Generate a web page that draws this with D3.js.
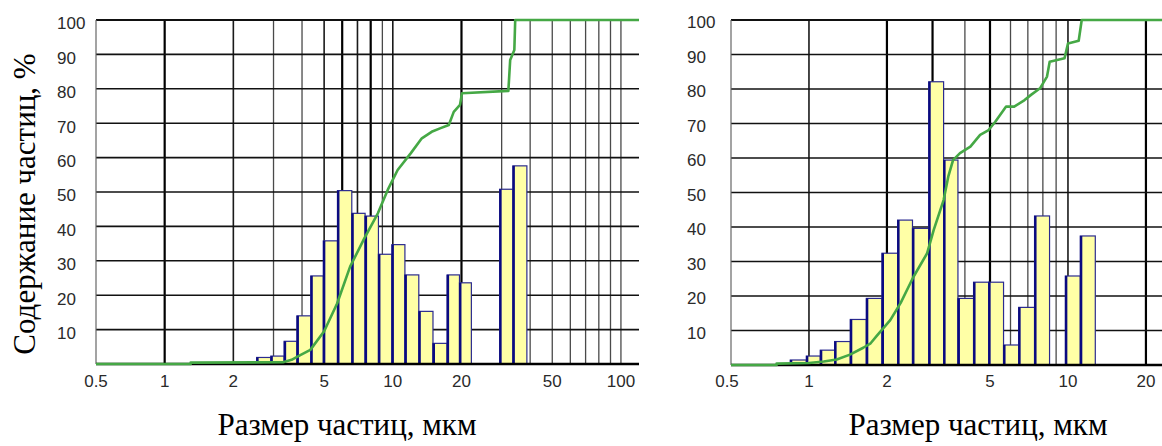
<!DOCTYPE html>
<html><head><meta charset="utf-8">
<script src="https://cdn.jsdelivr.net/npm/d3@7"></script>
<style>html,body{margin:0;padding:0;background:#fff;}svg{display:block;}</style>
</head><body>
<svg id="c" width="1162" height="446"></svg>
<script>
// ---------- data ----------
const yTicks = [10,20,30,40,50,60,70,80,90,100];

const leftXTicks = [0.5,1,2,5,10,20,50,100];
const leftGrid = [1,2,3,4,5,6,7,8,9,10,20,30,40,50,60,70,80,90,100];
const leftEdges = [2.53,2.92,3.34,3.80,4.37,4.96,5.72,6.61,7.56,8.65,9.91,11.3,13.0,15.0,17.3,19.6,22.1,25.5,29.4,33.6,38.7];
const leftValues = [1.9,2.3,6.6,14.0,25.6,35.8,50.4,43.8,43.0,31.9,34.7,25.9,15.3,6.0,25.9,23.6,null,null,50.8,57.6];
const leftCumX = [0.5,1.3,1.3,3.3,3.6,3.93,4.35,5.0,5.7,6.5,7.5,8.6,9.5,10.5,12.0,13.4,14.8,16.1,17.6,18.5,19.7,20.1,32.1,32.7,34.1,34.4,120];
const leftCumY = [0,0,0.4,0.5,1.2,2.6,4.1,9.5,17.6,28.3,36.5,43.8,50.6,56.4,61.3,65.6,67.5,68.5,69.5,73.3,75.3,78.7,79.4,88.4,91.3,100,100];

const rightXTicks = [0.5,1,2,5,10,20];
const rightGrid = [1,2,3,4,5,6,7,8,9,10,20];
const rightEdges = [0.847,0.977,1.106,1.256,1.444,1.665,1.914,2.199,2.51,2.90,3.31,3.76,4.32,4.94,5.64,6.45,7.43,8.49,9.77,11.16,12.75];
const rightValues = [1.45,2.6,4.3,6.8,13.2,19.3,32.4,42.0,39.6,82.1,59.4,19.3,24.0,24.0,5.8,16.7,43.2,null,25.8,37.4];
const rightCumX = [0.5,0.75,0.75,1.0,1.14,1.28,1.44,1.62,1.73,1.83,2.06,2.26,2.53,2.86,3.03,3.31,3.45,3.60,3.83,4.20,4.58,4.94,5.24,5.77,6.2,6.8,7.2,7.8,8.3,8.5,9.7,10.0,11.0,11.3,25];
const rightCumY = [0,0,0.4,0.6,1.0,1.6,3.0,5.0,6.3,8.5,13.0,18.0,25.5,32.4,39.1,47.8,54.6,59.4,61.4,63.3,66.7,68.1,70.5,74.9,74.9,76.8,78.3,80.2,83.6,87.9,88.9,93.2,94.0,100,100];

const yTitle = "Содержание частиц, %";
const xTitle = "Размер частиц, мкм";

// ---------- drawing ----------
const svg = d3.select("#c");
const tickFont = "'Liberation Sans',Arial,sans-serif";
const serif = "'Liberation Serif','DejaVu Serif',serif";

function drawChart(cfg){
  const g = svg.append("g");
  const x = d3.scaleLog().domain(cfg.xDomain).range(cfg.xRange);
  const y = d3.scaleLinear().domain([0,100]).range(cfg.yRange);
  const clipId = "clip"+cfg.id;
  svg.append("clipPath").attr("id",clipId).append("rect")
    .attr("x",cfg.xRange[0]-2).attr("y",cfg.yRange[1]-3)
    .attr("width",Math.min(cfg.xRange[1],1162)-cfg.xRange[0]+4)
    .attr("height",cfg.yRange[0]-cfg.yRange[1]+6);
  const p = g.append("g").attr("clip-path",`url(#${clipId})`);
  const x0 = cfg.xRange[0], x1 = cfg.xRange[1];

  // vertical grid
  p.selectAll(".vg").data(cfg.grid).join("line")
    .attr("x1",d=>x(d)).attr("x2",d=>x(d))
    .attr("y1",y(100)).attr("y2",y(0))
    .attr("stroke",d=>cfg.thick.includes(d)?"#000":(cfg.mid.includes(d)?"#1a1a1a":"#4a4a4a"))
    .attr("stroke-width",d=>cfg.thick.includes(d)?2.2:(cfg.mid.includes(d)?1.6:1.3));
  // horizontal grid
  p.selectAll(".hg").data(yTicks).join("line")
    .attr("x1",x0).attr("x2",x1)
    .attr("y1",d=>y(d)).attr("y2",d=>y(d))
    .attr("stroke","#111").attr("stroke-width",d=>d===100?2:1.6);
  // y axis line
  p.append("line").attr("x1",x0).attr("x2",x0).attr("y1",y(100)).attr("y2",y(0))
    .attr("stroke","#666").attr("stroke-width",1.2);

  // bars
  const bars = cfg.values.map((v,i)=>({v, a:cfg.edges[i], b:cfg.edges[i+1]})).filter(d=>d.v!==null);
  p.selectAll(".bar").data(bars).join("rect")
    .attr("x",d=>x(d.a)).attr("width",d=>x(d.b)-x(d.a))
    .attr("y",d=>y(d.v)).attr("height",d=>y(0)-y(d.v))
    .attr("fill","#ffffa6").attr("stroke","#2b2b8f").attr("stroke-width",1.2);
  p.selectAll(".barl").data(bars).join("line")
    .attr("x1",d=>x(d.a)+0.8).attr("x2",d=>x(d.a)+0.8)
    .attr("y1",d=>y(d.v)).attr("y2",y(0))
    .attr("stroke","#0a0a80").attr("stroke-width",2.4);

  // x axis line
  p.append("line").attr("x1",x0).attr("x2",x1).attr("y1",y(0)).attr("y2",y(0))
    .attr("stroke","#000").attr("stroke-width",2.4);

  // cumulative curve
  const pts = cfg.cumX.map((v,i)=>[v,cfg.cumY[i]]);
  p.append("path").datum(pts)
    .attr("d",d3.line().x(d=>x(d[0])).y(d=>y(d[1])))
    .attr("fill","none").attr("stroke","#45a845").attr("stroke-width",2.6)
    .attr("stroke-linejoin","round");

  // y tick labels
  g.selectAll(".yl").data(yTicks).join("text")
    .attr("x",cfg.yLabelX).attr("y",d=>y(d)+cfg.yLabelDy)
    .attr("dominant-baseline","middle")
    .attr("font-family",tickFont).attr("font-size",17).attr("fill","#2a2a2a")
    .text(d=>d);
  // x tick labels
  g.selectAll(".xl").data(cfg.xTicks).join("text")
    .attr("x",d=>x(d)+(d===0.5?cfg.halfDx:0)).attr("y",383)
    .attr("text-anchor","middle").attr("dominant-baseline","middle")
    .attr("font-family",tickFont).attr("font-size",17).attr("fill","#2a2a2a")
    .text(d=>d);
  // x title
  g.append("text").attr("x",cfg.titleX).attr("y",435)
    .attr("text-anchor","middle")
    .attr("font-family",serif).attr("font-size",31).attr("fill","#000")
    .text(xTitle);
}

drawChart({
  id:"L", xDomain:[0.5,120], xRange:[96,639], yRange:[364,20],
  grid:leftGrid, thick:[1,6,8,20], mid:[2,5,7,10],
  edges:leftEdges, values:leftValues, cumX:leftCumX, cumY:leftCumY,
  xTicks:leftXTicks, yLabelX:57, yLabelDy:5, halfDx:0, titleX:347
});
drawChart({
  id:"R", xDomain:[0.5,25], xRange:[731,731+259*Math.log10(50)], yRange:[365,20],
  grid:rightGrid, thick:[2,3,5,20], mid:[1,10],
  edges:rightEdges, values:rightValues, cumX:rightCumX, cumY:rightCumY,
  xTicks:rightXTicks, yLabelX:687, yLabelDy:4, halfDx:-4, titleX:978
});

// y title (left)
svg.append("text")
  .attr("transform","translate(35,204) rotate(-90)")
  .attr("text-anchor","middle")
  .attr("font-family",serif).attr("font-size",31).attr("fill","#000")
  .text(yTitle);
</script>
</body></html>
